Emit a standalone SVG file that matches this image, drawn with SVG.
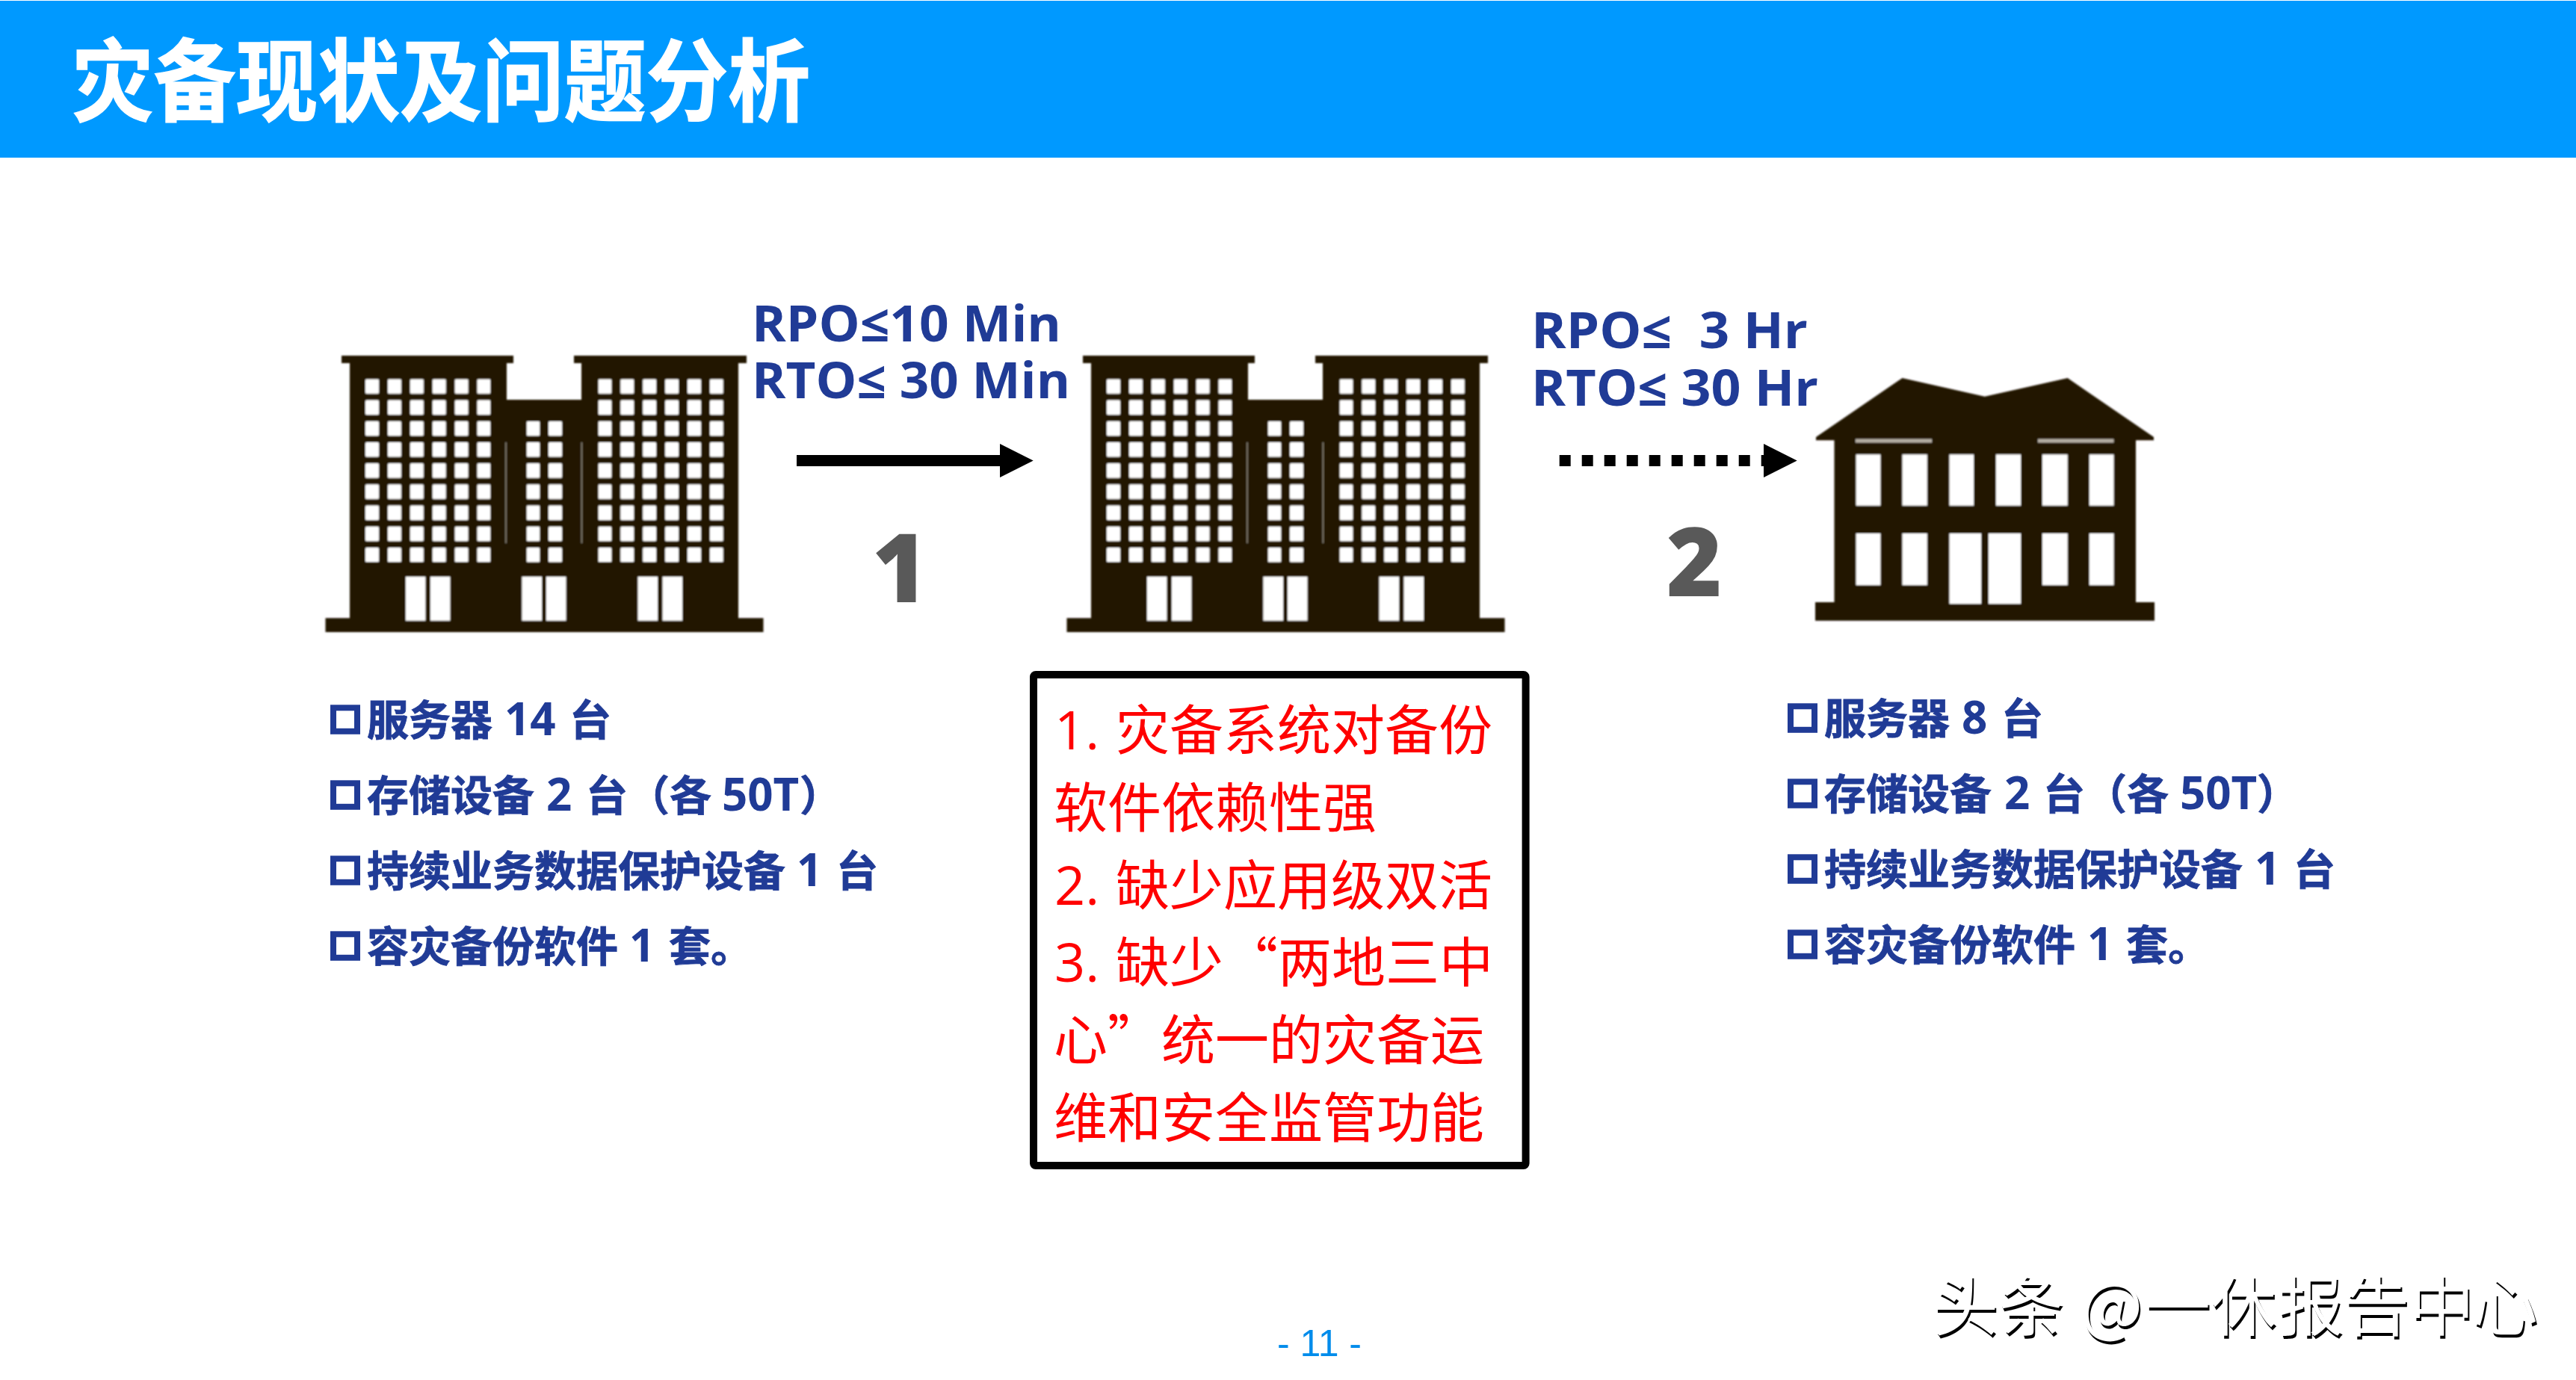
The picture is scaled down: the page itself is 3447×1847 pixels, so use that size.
<svg xmlns="http://www.w3.org/2000/svg" width="3447" height="1847" viewBox="0 0 3447 1847">
<style>
.cn{font-family:"Noto Sans CJK SC","Noto Sans",sans-serif}
.la{font-family:"Open Sans","Noto Sans CJK SC",sans-serif}
.blue{fill:#203b96;font-weight:700;font-size:56px;stroke:#203b96;stroke-width:0.8px}
.blue .la{font-size:60px;stroke-width:0}
.rp{fill:#203b96;font-weight:700;font-size:66px;white-space:pre}
.red{fill:#ff0000;font-size:72px}
.num{font-family:"Open Sans",sans-serif;font-weight:800;font-size:127px;fill:#595959}
.dk{fill:#231600}
.wh{fill:#ffffff}
.bul{fill:none;stroke:#203b96;stroke-width:8}
.ln{stroke:#000;stroke-width:15;fill:none}
</style>
<defs>
<filter id="soft" x="-5%" y="-5%" width="110%" height="110%"><feGaussianBlur stdDeviation="0.8"/></filter>
<filter id="emboss" x="-5%" y="-10%" width="110%" height="120%">
<feOffset in="SourceAlpha" dx="2" dy="4" result="o"/>
<feComposite in="o" in2="SourceAlpha" operator="out"/>
</filter>
<marker id="head" markerUnits="userSpaceOnUse" markerWidth="46" markerHeight="46" refX="0" refY="23" orient="auto"><path d="M0,0.5 L44.7,23 L0,45.5Z" fill="#000"/></marker>
<pattern id="win" patternUnits="userSpaceOnUse" x="489" y="507.3" width="29.9" height="28.2"><rect width="18" height="19.6" rx="1.5" fill="#fff"/></pattern>
<g id="tower">
<path class="dk" d="M457,476H687V486H678V535H778V486H768V476H999V486H988V827.3H1021.5V846H435.5V827.3H468V486H457Z"/>
<rect x="489" y="507.3" width="167.4" height="245" fill="url(#win)"/>
<rect x="489" y="507.3" width="167.4" height="245" fill="url(#win)" transform="translate(311.4)"/>
<rect x="489" y="563.7" width="18" height="189" fill="url(#win)" transform="translate(215.5)"/>
<rect x="489" y="563.7" width="18" height="189" fill="url(#win)" transform="translate(245)"/>
<path class="wh" d="M543,771.7h26.4V830.7H543ZM576,771.7h26.4V830.7H576ZM698.4,771.7h26.6V830.7H698.4ZM731,771.7h26.5V830.7H731ZM853.5,771.7h26.5V830.7H853.5ZM886.5,771.7h26.5V830.7H886.5Z"/>
<path d="M677,592V727M778.4,592V727" stroke="#8a8478" stroke-width="1.6" fill="none"/>
</g>
</defs>
<rect width="3447" height="1847" fill="#ffffff"/>
<g id="header">
<rect x="0" y="1" width="3447" height="210" fill="#0099ff"/>
<text class="cn" x="96" y="153" font-size="120" font-weight="700" fill="#ffffff" stroke="#ffffff" stroke-width="1.5" textLength="988" lengthAdjust="spacingAndGlyphs">灾备现状及问题分析</text>
</g>
<g id="site-a" filter="url(#soft)"><use href="#tower"/></g>
<g id="site-b" filter="url(#soft)"><use href="#tower" x="992"/></g>
<g id="site-c" filter="url(#soft)">
<path class="dk" d="M2430,585L2545.5,506L2655.8,530.7L2766.7,506L2882,585V589.3H2858V806H2883V830.7H2429V806H2454.5V589.3H2430Z"/>
<path d="M2483,587.5H2585V592.5H2483ZM2727,587.5H2828.5V592.5H2727Z" fill="#b5aea4"/>
<path class="wh" d="M2483.6,608.3h32.8V676.7h-32.8ZM2545.5,608.3h33.3V676.7h-33.3ZM2608.5,608.3h32.5V676.7h-32.5ZM2671,608.3h33V676.7h-33ZM2733,608.3h33.7V676.7h-33.7ZM2795.8,608.3h32.7V676.7h-32.7ZM2483.6,714h32.8V783.3h-32.8ZM2545.5,714h33.3V783.3h-33.3ZM2733,714h33.7V783.3h-33.7ZM2795.8,714h32.7V783.3h-32.7ZM2608.5,714h42.5V808.3h-42.5ZM2661,714h43V808.3h-43Z"/>
</g>
<g id="connectors">
<line class="ln" x1="1066" y1="616.5" x2="1338" y2="616.5" marker-end="url(#head)"/>
<line class="ln" x1="2086.7" y1="616.5" x2="2360" y2="616.5" stroke-dasharray="15 15" marker-end="url(#head)"/>
</g>
<g id="link-1-label">
<text class="la rp"><tspan x="1006" y="456.7" textLength="414" lengthAdjust="spacingAndGlyphs">RPO≤10 Min</tspan><tspan x="1006" y="533" textLength="426" lengthAdjust="spacingAndGlyphs">RTO≤ 30 Min</tspan></text>
<text class="num" x="1167" y="806">1</text>
</g>
<g id="link-2-label">
<text class="la rp"><tspan x="2049" y="465.7" textLength="370" lengthAdjust="spacingAndGlyphs">RPO≤  3 Hr</tspan><tspan x="2049" y="542.7" textLength="384" lengthAdjust="spacingAndGlyphs">RTO≤ 30 Hr</tspan></text>
<text class="num" x="2230" y="797.7">2</text>
</g>
<g id="list-left">
<rect class="bul" x="446" y="947.3" width="32" height="31.5"/>
<rect class="bul" x="446" y="1048.3" width="32" height="31.5"/>
<rect class="bul" x="446" y="1149.3" width="32" height="31.5"/>
<rect class="bul" x="446" y="1250.3" width="32" height="31.5"/>
<text class="cn blue" y="984"><tspan x="491">服务器</tspan><tspan class="la" x="675">14</tspan><tspan x="762">台</tspan></text>
<text class="cn blue" y="1085"><tspan x="491">存储设备</tspan><tspan class="la" x="731">2</tspan><tspan x="784">台</tspan><tspan x="840">（各</tspan><tspan class="la" x="966">50T</tspan><tspan x="1070">）</tspan></text>
<text class="cn blue" y="1186"><tspan x="491">持续业务数据保护设备</tspan><tspan class="la" x="1066">1</tspan><tspan x="1119">台</tspan></text>
<text class="cn blue" y="1287"><tspan x="491">容灾备份软件</tspan><tspan class="la" x="842">1</tspan><tspan x="895">套。</tspan></text>
</g>
<g id="list-right">
<rect class="bul" x="2396" y="945.3" width="32" height="31.5"/>
<rect class="bul" x="2396" y="1046.3" width="32" height="31.5"/>
<rect class="bul" x="2396" y="1147.3" width="32" height="31.5"/>
<rect class="bul" x="2396" y="1248.3" width="32" height="31.5"/>
<text class="cn blue" y="982"><tspan x="2441">服务器</tspan><tspan class="la" x="2625">8</tspan><tspan x="2678">台</tspan></text>
<text class="cn blue" y="1083"><tspan x="2441">存储设备</tspan><tspan class="la" x="2682">2</tspan><tspan x="2734">台</tspan><tspan x="2790">（各</tspan><tspan class="la" x="2917">50T</tspan><tspan x="3020">）</tspan></text>
<text class="cn blue" y="1184"><tspan x="2441">持续业务数据保护设备</tspan><tspan class="la" x="3017">1</tspan><tspan x="3069">台</tspan></text>
<text class="cn blue" y="1285"><tspan x="2441">容灾备份软件</tspan><tspan class="la" x="2793">1</tspan><tspan x="2845">套。</tspan></text>
</g>
<g id="problem-box">
<rect x="1383" y="903" width="658.6" height="657" rx="3" fill="#ffffff" stroke="#000" stroke-width="10"/>
<text class="cn red" y="1003"><tspan class="la" x="1411">1.</tspan><tspan x="1493">灾备系统对备份</tspan></text>
<text class="cn red" y="1107" x="1410">软件依赖性强</text>
<text class="cn red" y="1211"><tspan class="la" x="1411">2.</tspan><tspan x="1493">缺少应用级双活</tspan></text>
<text class="cn red" y="1314"><tspan class="la" x="1411">3.</tspan><tspan x="1493">缺少</tspan><tspan x="1638">“两地三中</tspan></text>
<text class="cn red" y="1418" x="1410">心”统一的灾备运</text>
<text class="cn red" y="1522" x="1410">维和安全监管功能</text>
</g>
<text id="page" x="1765.5" y="1815" text-anchor="middle" font-family="Liberation Sans, Arial, sans-serif" font-size="50" fill="#008ceb" style="white-space:pre">- 11 -</text>
<text id="watermark" class="cn" x="2586 2674 2760 2784 2870 2958 3048 3136 3223 3308" y="1780" font-size="88" filter="url(#emboss)">头条 @一休报告中心</text>
</svg>
